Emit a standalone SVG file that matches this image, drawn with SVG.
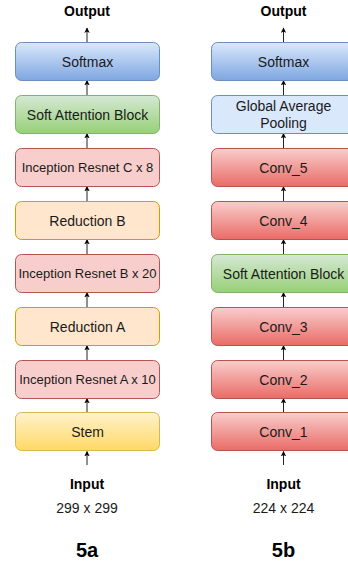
<svg xmlns="http://www.w3.org/2000/svg" width="348" height="563" viewBox="0 0 348 563">
<defs>
<linearGradient id="gBlue" x1="0" y1="0" x2="0" y2="1"><stop offset="0" stop-color="#dae8fc"/><stop offset="1" stop-color="#7ea6e0"/></linearGradient>
<linearGradient id="gGreen" x1="0" y1="0" x2="0" y2="1"><stop offset="0" stop-color="#d5e8d4"/><stop offset="1" stop-color="#97d077"/></linearGradient>
<linearGradient id="gYellow" x1="0" y1="0" x2="0" y2="1"><stop offset="0" stop-color="#fff2cc"/><stop offset="1" stop-color="#ffd966"/></linearGradient>
<linearGradient id="gRed" x1="0" y1="0" x2="0" y2="1"><stop offset="0" stop-color="#f8cecc"/><stop offset="1" stop-color="#ea6b66"/></linearGradient>
<marker id="arr" viewBox="0 0 10 10" refX="9" refY="5" markerWidth="5.5" markerHeight="5.5" markerUnits="userSpaceOnUse" orient="auto">
<path d="M0,0 L10,5 L0,10 L2.5,5 Z" fill="#000"/>
</marker>
</defs>
<style>
text{font-family:"Liberation Sans",Arial,sans-serif;font-size:14px;fill:#1a1a1a;text-anchor:middle}
.b{font-weight:bold;fill:#000}
.big{font-size:20px;font-weight:bold;fill:#000}
.s13{font-size:13px}
rect{stroke-width:1}
.blue{fill:url(#gBlue);stroke:#6c8ebf}
.lblue{fill:#dae8fc;stroke:#6c8ebf}
.green{fill:url(#gGreen);stroke:#82b366}
.yellow{fill:url(#gYellow);stroke:#d6b656}
.orange{fill:#ffe6cc;stroke:#d79b00}
.pink{fill:#f8cecc;stroke:#b85450}
.red{fill:url(#gRed);stroke:#b85450}
.c line{stroke:#222;stroke-width:1;marker-end:url(#arr)}
</style>
<g id="connectors" class="c">
<line x1="87" y1="42" x2="87" y2="28"/>
<line x1="87" y1="95" x2="87" y2="80.5"/>
<line x1="87" y1="148" x2="87" y2="133.5"/>
<line x1="87" y1="201" x2="87" y2="186.5"/>
<line x1="87" y1="254" x2="87" y2="239.5"/>
<line x1="87" y1="307" x2="87" y2="292.5"/>
<line x1="87" y1="360" x2="87" y2="345.5"/>
<line x1="87" y1="413" x2="87" y2="398.5"/>
<line x1="87" y1="465" x2="87" y2="451.5"/>
<line x1="283.5" y1="42" x2="283.5" y2="28"/>
<line x1="283.5" y1="95" x2="283.5" y2="80.5"/>
<line x1="283.5" y1="148" x2="283.5" y2="133.5"/>
<line x1="283.5" y1="201" x2="283.5" y2="186.5"/>
<line x1="283.5" y1="254" x2="283.5" y2="239.5"/>
<line x1="283.5" y1="307" x2="283.5" y2="292.5"/>
<line x1="283.5" y1="360" x2="283.5" y2="345.5"/>
<line x1="283.5" y1="413" x2="283.5" y2="398.5"/>
<line x1="283.5" y1="465" x2="283.5" y2="451.5"/>
</g>
<g id="a-output"><text class="b" x="87" y="16">Output</text></g>
<g id="a-softmax"><rect class="blue" x="15.5" y="42.5" width="144" height="38" rx="6"/><text x="87.5" y="66.5">Softmax</text></g>
<g id="a-sab"><rect class="green" x="15.5" y="95.5" width="144" height="38" rx="6"/><text x="87.5" y="119.5">Soft Attention Block</text></g>
<g id="a-incC"><rect class="pink" x="15.5" y="148.5" width="144" height="38" rx="6"/><text class="s13" x="87.5" y="172">Inception Resnet C x 8</text></g>
<g id="a-redB"><rect class="orange" x="15.5" y="201.5" width="144" height="38" rx="6"/><text x="87.5" y="225.5">Reduction B</text></g>
<g id="a-incB"><rect class="pink" x="15.5" y="254.5" width="144" height="38" rx="6"/><text class="s13" x="87.5" y="278">Inception Resnet B x 20</text></g>
<g id="a-redA"><rect class="orange" x="15.5" y="307.5" width="144" height="38" rx="6"/><text x="87.5" y="331.5">Reduction A</text></g>
<g id="a-incA"><rect class="pink" x="15.5" y="360.5" width="144" height="38" rx="6"/><text class="s13" x="87.5" y="384">Inception Resnet A x 10</text></g>
<g id="a-stem"><rect class="yellow" x="15.5" y="412.5" width="144" height="38" rx="6"/><text x="87.5" y="436.5">Stem</text></g>
<g id="a-input"><text class="b" x="87" y="489">Input</text><text x="87" y="513">299 x 299</text></g>
<g id="a-label"><text class="big" x="87" y="557">5a</text></g>
<g id="b-output"><text class="b" x="283.5" y="16">Output</text></g>
<g id="b-softmax"><rect class="blue" x="211.5" y="42.5" width="144" height="38" rx="6"/><text x="283.5" y="66.5">Softmax</text></g>
<g id="b-gap"><rect class="lblue" x="211.5" y="95.5" width="144" height="38" rx="6"/><text x="283.5" y="110.5">Global Average</text><text x="283.5" y="127.5">Pooling</text></g>
<g id="b-conv5"><rect class="red" x="211.5" y="148.5" width="144" height="38" rx="6"/><text x="283.5" y="172.5">Conv_5</text></g>
<g id="b-conv4"><rect class="red" x="211.5" y="201.5" width="144" height="38" rx="6"/><text x="283.5" y="225.5">Conv_4</text></g>
<g id="b-sab"><rect class="green" x="211.5" y="254.5" width="144" height="38" rx="6"/><text x="283.5" y="278.5">Soft Attention Block</text></g>
<g id="b-conv3"><rect class="red" x="211.5" y="307.5" width="144" height="38" rx="6"/><text x="283.5" y="331.5">Conv_3</text></g>
<g id="b-conv2"><rect class="red" x="211.5" y="360.5" width="144" height="38" rx="6"/><text x="283.5" y="384.5">Conv_2</text></g>
<g id="b-conv1"><rect class="red" x="211.5" y="412.5" width="144" height="38" rx="6"/><text x="283.5" y="436.5">Conv_1</text></g>
<g id="b-input"><text class="b" x="283.5" y="489">Input</text><text x="283.5" y="513">224 x 224</text></g>
<g id="b-label"><text class="big" x="283.5" y="557">5b</text></g>
</svg>
